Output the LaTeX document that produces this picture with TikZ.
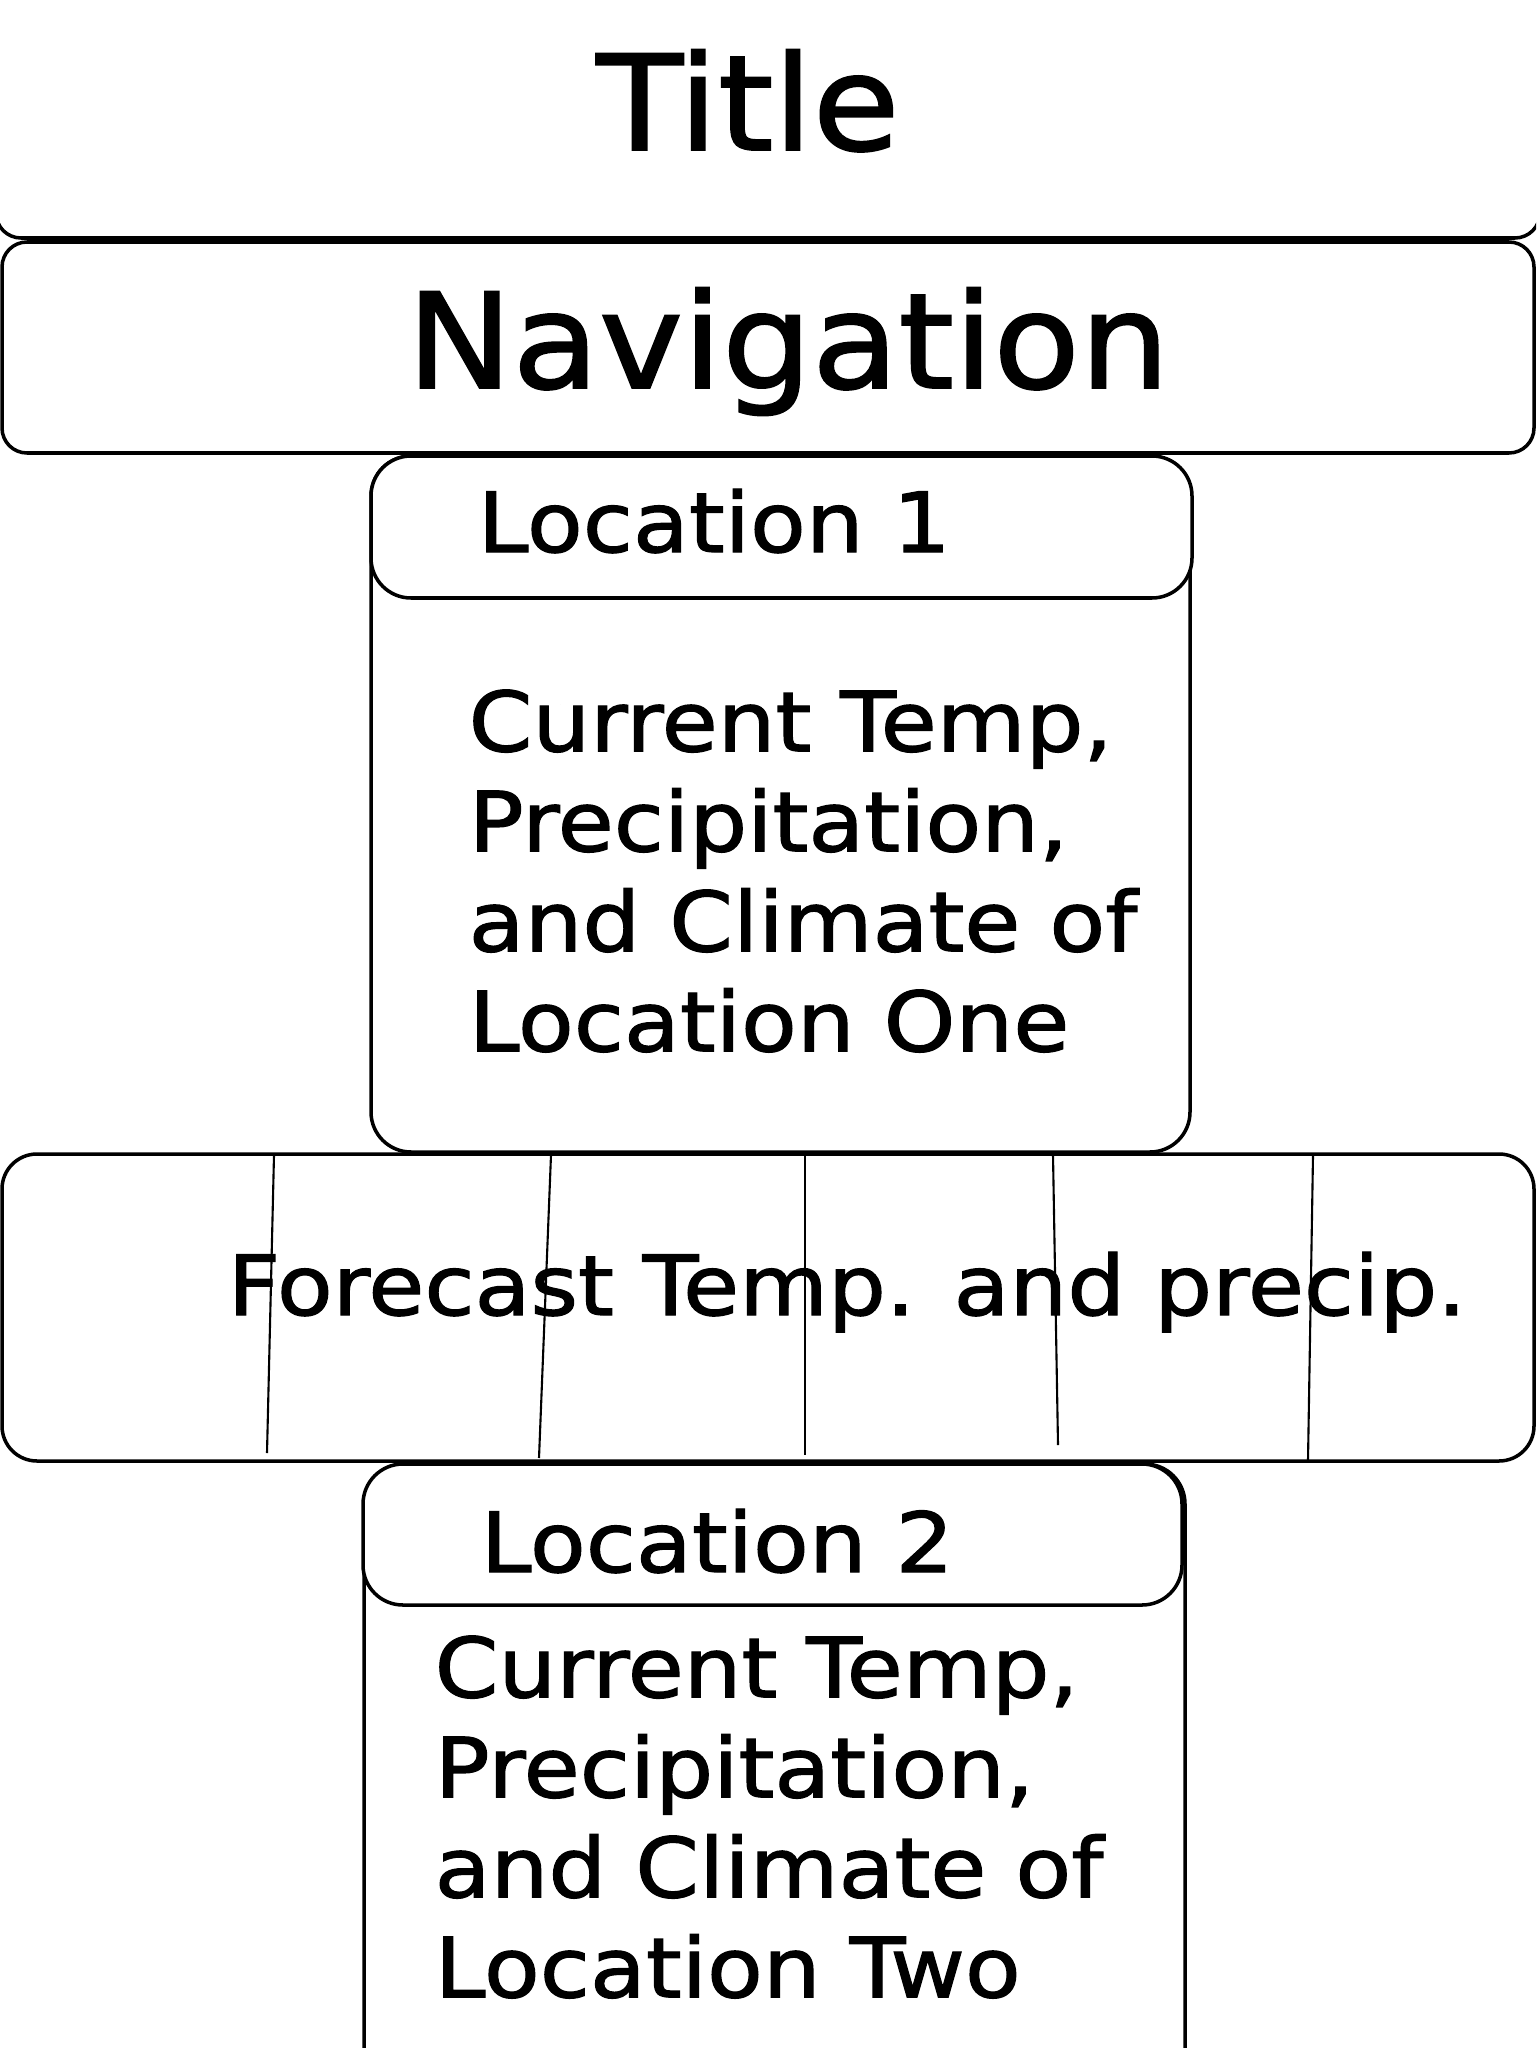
\documentclass[tikz,border=0pt]{standalone}
\usepackage{fontspec}
\setmainfont{DejaVu Sans}[FakeStretch=1.07, FakeBold=1.5]
\newfontfamily\bodyfont{DejaVu Sans}[FakeStretch=1.10, FakeBold=1.5]
\begin{document}
\begin{tikzpicture}[x=0.1mm, y=-0.1mm,
    bar/.style = {draw, line width=1pt, fill=white, rounded corners=2.5mm, minimum width=153.2mm, inner sep=0},
    panel/.style = {draw, line width=1pt, fill=white, rounded corners=4mm, inner sep=0},
    big/.style = {font=\fontsize{37.6}{37.6}\selectfont, inner sep=0, anchor=base},
    txt/.style = {font=\bodyfont\fontsize{23.6}{28.45}\selectfont, inner sep=0, anchor=base west},
    infotext/.style = {txt, align=left, anchor=north west}]
    \clip (0,0) rectangle (1536,2048);
    \node[bar, minimum width=154.4mm, minimum height=33.8mm] (title) at (768,69) {};
    \node[bar, minimum height=21.1mm] (nav) at (768,347.5) {};
    \node[panel, minimum width=81.9mm, minimum height=69.6mm] (loc1) at (780.5,804) {};
    \node[panel, minimum width=82.1mm, minimum height=14.2mm] (loc1head) at (781.5,527) {};
    \node[bar, rounded corners=3.5mm, minimum height=30.7mm] (fcast) at (768,1307.5) {};
    \foreach \xa/\xb/\yb in {274/267/1453, 551/539/1458, 805/805/1455, 1053/1058/1445, 1313/1308/1460}
        \draw[line width=0.6pt] (\xa,1155) -- (\xb,\yb);
    \node[panel, minimum width=82.1mm, minimum height=73.6mm] (loc2) at (774.5,1832) {};
    \node[panel, minimum width=81.9mm, minimum height=14.1mm] (loc2head) at (772.5,1534.5) {};

    \node[big] (titletext) at (748,150) {Title};
    \node[big] (navtext) at (788,388) {Navigation};
    \node[txt] (loc1name) at (477,552) {Location 1};
    \node[infotext] (loc1info) at (468,689) {Current Temp,\\Precipitation,\\and Climate of\\Location One};
    \node[txt] (fcasttext) at (227,1315) {Forecast Temp. and precip.};
    \node[txt] (loc2name) at (480,1572) {Location 2};
    \node[infotext] (loc2info) at (434,1635) {Current Temp,\\Precipitation,\\and Climate of\\Location Two};
\end{tikzpicture}
\end{document}
